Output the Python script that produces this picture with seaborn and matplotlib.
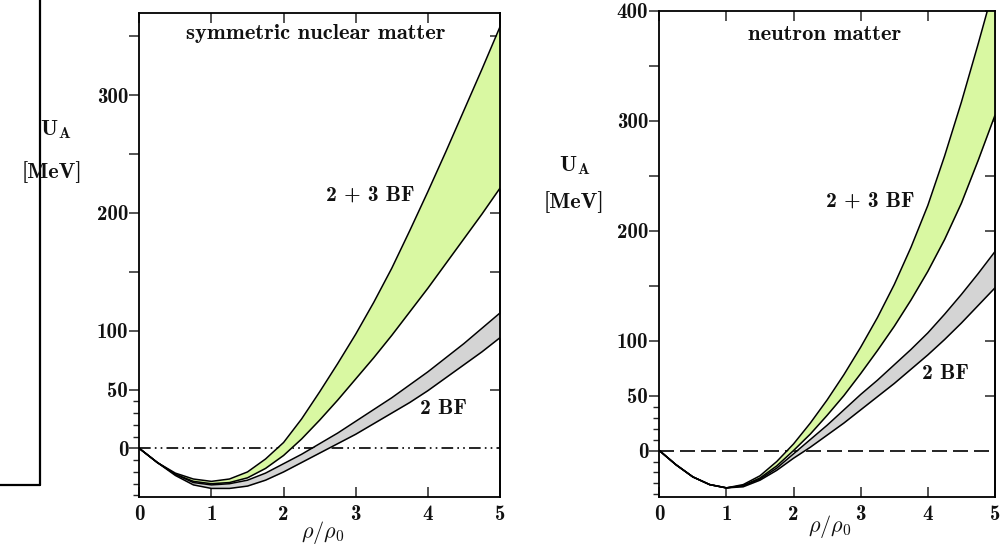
import numpy as np
import pandas as pd
import matplotlib
matplotlib.use("Agg")
import matplotlib.pyplot as plt
import seaborn as sns
from matplotlib.lines import Line2D

# ---------------- data ----------------
rho = [0, 0.25, 0.5, 0.75, 1.0, 1.25, 1.5, 1.75, 2.0, 2.25, 2.5,
       2.75, 3.0, 3.25, 3.5, 3.75, 4.0, 4.25, 4.5, 4.75, 5.0]

# symmetric nuclear matter
snm_23bf_upper = [0, -12, -21, -26, -28, -26, -20, -9, 5, 25, 48, 72, 97, 124, 153, 185, 218, 252, 287, 322, 358]
snm_23bf_lower = [0, -12, -22, -28, -30, -29, -25, -17, -6, 8, 24, 41, 59, 77, 96, 116, 136, 157, 178, 199, 221]
snm_2bf_upper = [0, -12, -22, -29, -31, -30, -27, -21, -13, -5, 4, 13, 23, 33, 43, 54, 65, 77, 89, 102, 115]
snm_2bf_lower = [0, -12, -23, -31, -34, -34, -32, -27, -20, -12, -4, 4, 12, 21, 30, 39, 49, 60, 71, 82, 94]

# neutron matter
nm_23bf_upper = [0, -13, -24, -31, -34, -31, -23, -10, 6, 25, 46, 69, 94, 121, 151, 185, 223, 268, 317, 370, 425]
nm_23bf_lower = [0, -13, -24, -31, -34, -32, -25, -14, 0, 15, 32, 50, 70, 91, 113, 137, 163, 192, 225, 264, 305]
nm_2bf_upper = [0, -13, -24, -31, -34, -32, -26, -16, -3, 10, 23, 37, 51, 64, 78, 92, 107, 124, 142, 161, 181]
nm_2bf_lower = [0, -13, -24, -31, -34, -33, -27, -18, -7, 3, 14, 25, 37, 49, 61, 74, 87, 101, 116, 132, 148]

x_ticks = [0, 1, 2, 3, 4, 5]
snm_yticks = [0, 50, 100, 150, 200, 250, 300, 350]
snm_ylabels = ["0", "50", "100", "", "200", "", "300", ""]
nm_yticks = [0, 50, 100, 150, 200, 250, 300, 350, 400]
nm_ylabels = ["0", "50", "100", "", "200", "", "300", "", "400"]
minor_yticks = [-40, -30, -20, -10, 10, 20, 30, 40]

# ---------------- style ----------------
sns.set_style("ticks")
plt.rcParams["font.family"] = ["cmb10", "DejaVu Serif"]
plt.rcParams["mathtext.fontset"] = "cm"
plt.rcParams["axes.unicode_minus"] = False

GREEN = "#d9f8a2"
GREY = "#d4d4d4"
INK = "#111111"
TICKSIZE = 15

fig = plt.figure(figsize=(10.05, 5.47), dpi=100)
ax1 = fig.add_axes([0.1386, 0.092, 0.3589, 0.8848])
ax2 = fig.add_axes([0.6560, 0.092, 0.3340, 0.8880])


def draw_panel(ax, up3, lo3, up2, lo2, ylim, yticks, ylabels, zero_style):
    df = pd.DataFrame({
        "rho": rho * 4,
        "U": up3 + lo3 + up2 + lo2,
        "curve": (["23u"] * len(rho) + ["23l"] * len(rho)
                  + ["2u"] * len(rho) + ["2l"] * len(rho)),
    })
    ax.fill_between(rho, lo2, up2, color=GREY, lw=0, zorder=1)
    ax.fill_between(rho, lo3, up3, color=GREEN, lw=0, zorder=2)
    sns.lineplot(data=df, x="rho", y="U", hue="curve", units="curve",
                 estimator=None, palette=["black"] * 4, legend=False,
                 lw=1.1, ax=ax, zorder=3, sort=False)
    ax.axhline(0, color="black", lw=1.2, ls=zero_style, zorder=0.5)
    ax.set_xlim(0, 5)
    ax.set_ylim(*ylim)
    ax.set_xlabel("")
    ax.set_ylabel("")
    for s in ax.spines.values():
        s.set_visible(True)
        s.set_linewidth(1.3)
        s.set_color("black")
    ax.set_xticks(x_ticks)
    ax.set_xticklabels([str(t) for t in x_ticks])
    ax.tick_params(axis="x", which="major", direction="in", top=True,
                   bottom=True, length=7, width=1.1, labelsize=TICKSIZE,
                   labelcolor=INK, pad=6)
    ax.set_yticks(yticks)
    ax.set_yticklabels(ylabels)
    ax.set_yticks(minor_yticks, minor=True)
    ax.tick_params(axis="y", which="major", direction="out", left=True,
                   right=False, length=7, width=1.1, labelsize=TICKSIZE,
                   labelcolor=INK, pad=1)
    ax.tick_params(axis="y", which="minor", direction="out", left=True,
                   right=False, length=4.5, width=1.0)
    sec = ax.secondary_yaxis("right")
    sec.set_yticks([t for t in yticks if t > 0])
    sec.tick_params(axis="y", which="major", direction="in", length=7,
                    width=1.1, labelright=False)
    sec.tick_params(axis="y", which="minor", right=False)
    sec.spines["right"].set_linewidth(1.3)


draw_panel(ax1, snm_23bf_upper, snm_23bf_lower, snm_2bf_upper, snm_2bf_lower,
           (-41, 370), snm_yticks, snm_ylabels,
           (0, (7, 2.5, 1, 2.5, 1, 2.5)))
draw_panel(ax2, nm_23bf_upper, nm_23bf_lower, nm_2bf_upper, nm_2bf_lower,
           (-42, 400), nm_yticks, nm_ylabels, (0, (9, 3.6)))

# panel texts
ax1.text(0.49, 0.958, "symmetric nuclear matter", transform=ax1.transAxes,
         ha="center", va="center", fontsize=16.3, color=INK)
ax2.text(0.494, 0.952, "neutron matter", transform=ax2.transAxes,
         ha="center", va="center", fontsize=16.3, color=INK)
ax1.text(3.2, 215, "2 + 3 BF", ha="center", va="center", fontsize=15.5, color=INK)
ax1.text(4.22, 34, "2 BF", ha="center", va="center", fontsize=15.5, color=INK)
ax2.text(3.14, 227, "2 + 3 BF", ha="center", va="center", fontsize=15.5, color=INK)
ax2.text(4.26, 70, "2 BF", ha="center", va="center", fontsize=15.5, color=INK)

W, H = 1005.0, 547.0


def ftext(px, py, s, size):
    fig.text(px / W, 1 - py / H, s, ha="center", va="center", fontsize=size, color=INK)


ftext(56, 130, r"U$_\mathbf{A}$", 16)
ftext(52, 172, "[MeV]", 16)
ftext(575, 166, r"U$_\mathbf{A}$", 16)
ftext(574, 202, "[MeV]", 16)
ftext(323, 532, r"$\rho/\rho_0$", 16)
ftext(830, 527, r"$\rho/\rho_0$", 16)

# frame fragment at the far left of the reference image
fig.add_artist(Line2D([40 / W, 40 / W], [1.0, 1 - 485 / H], transform=fig.transFigure,
                      color="black", lw=1.6))
fig.add_artist(Line2D([0, 40 / W], [1 - 485 / H, 1 - 485 / H], transform=fig.transFigure,
                      color="black", lw=1.6))

fig.savefig("out.png", dpi=100)
